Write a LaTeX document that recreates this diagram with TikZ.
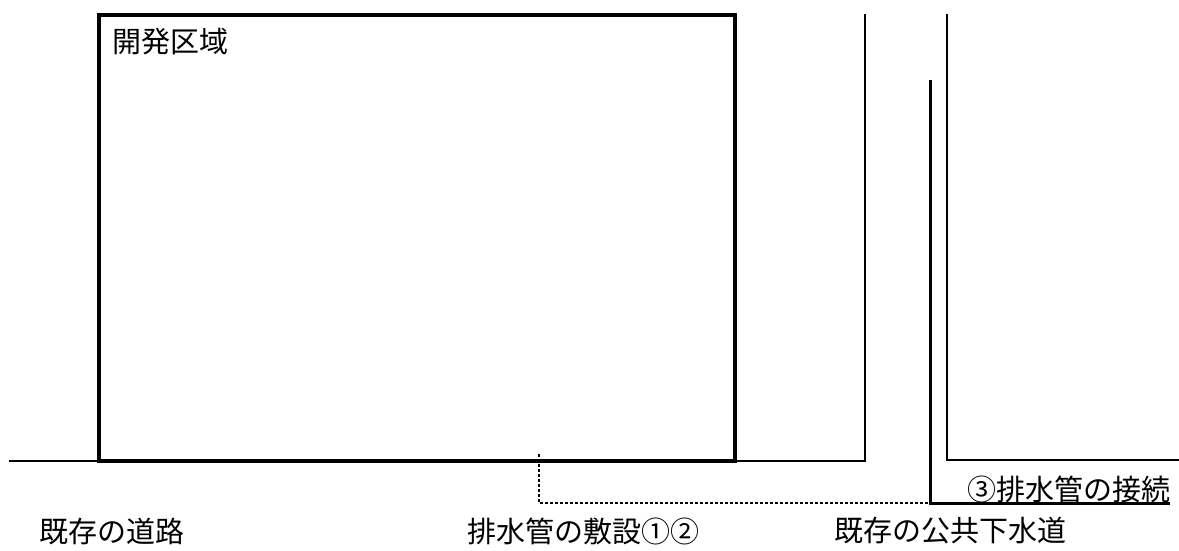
\documentclass[tikz,border=0pt]{standalone}
\usepackage{fontspec}
\newfontfamily\jp{Noto Sans CJK JP}
\begin{document}
\begin{tikzpicture}[x=1pt,y=-1pt,
  thinline/.style={line width=2pt},
  thickline/.style={line width=4.2pt},
  pipe/.style={line width=3pt},
  dotline/.style={line width=2.6pt,dash pattern=on 2.6pt off 2.4pt},
  lbl/.style={font=\jp\fontsize{29}{29}\selectfont,inner sep=0pt,anchor=west}]
\useasboundingbox (0,0) rectangle (1179,551);
\fill[white] (0,0) rectangle (1179,551);
% development area
\draw[thickline] (99,15) rectangle (735,461);
% road
\draw[thinline] (9,461) -- (99,461);
\draw[thinline] (735,461) -- (865,461) -- (865,14);
% right block
\draw[thinline] (947,14) -- (947,460) -- (1179,460);
% public sewer
\coordinate (sewtop) at (930,80);
\coordinate (sewbot) at (930,503);
\coordinate (sewend) at (1170,503);
\draw[pipe] (sewtop) -- (sewbot) -- (sewend);
% new drain pipe
\coordinate (pstart) at (539,454);
\coordinate (pcorner) at (539,503);
\draw[dotline] (pstart) -- (pcorner) -- (sewbot);
% labels
\node[lbl] (dev) at (112,42) {開発区域};
\node[lbl] (road) at (39,531) {既存の道路};
\node[lbl] (lay) at (467,531) {排水管の敷設①②};
\node[lbl] (sewer) at (834,531) {既存の公共下水道};
\node[lbl] (conn) at (967,489) {③排水管の接続};
\end{tikzpicture}
\end{document}
